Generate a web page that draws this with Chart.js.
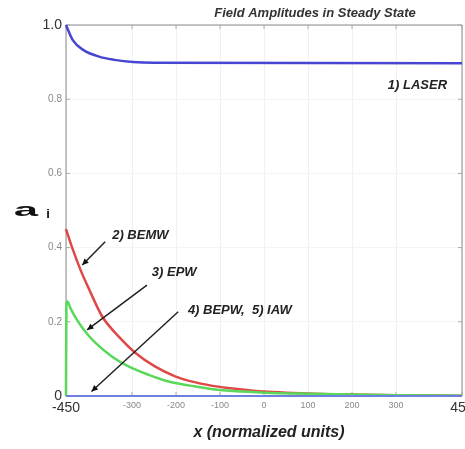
<!DOCTYPE html>
<html>
<head>
<meta charset="utf-8">
<script src="https://cdn.jsdelivr.net/npm/chart.js@4"></script>
<style>
  html, body { margin: 0; padding: 0; background: #fff; }
  #wrap { width: 465px; height: 449px; }
</style>
</head>
<body>
<div id="wrap"><canvas id="chart"></canvas></div>
<script>
// tick values / labels
var xTickVals = [-450, -300, -200, -100, 0, 100, 200, 300, 450];
var xTickLabels = ['-450', '-300', '-200', '-100', '0', '100', '200', '300', '450'];
var yTickVals = [0, 0.2, 0.4, 0.6, 0.8, 1.0];
var yTickLabels = ['0', '0.2', '0.4', '0.6', '0.8', '1.0'];

// 1) LASER
var laserX = [-450, -435, -411, -373, -340, -298, -250, 450];
var laserY = [1.0, 0.96, 0.933, 0.914, 0.906, 0.900, 0.898, 0.897];

// 2) BEMW
var bemwX = [-450, -436, -417, -398, -368, -330, -292, -247, -202, -168, -120, -77, -30, 0, 50, 100, 150, 200, 300, 450];
var bemwY = [0.45, 0.40, 0.34, 0.289, 0.215, 0.16, 0.116, 0.079, 0.053, 0.040, 0.028, 0.021, 0.015, 0.012, 0.009, 0.007, 0.005, 0.004, 0.002, 0.001];

// 3) EPW
var epwX = [-450, -449, -447, -440, -425, -406, -383, -345, -307, -262, -217, -168, -116, -50, 0, 100, 200, 300, 450];
var epwY = [0, 0.25, 0.255, 0.237, 0.205, 0.173, 0.143, 0.106, 0.079, 0.057, 0.039, 0.028, 0.018, 0.012, 0.009, 0.006, 0.004, 0.002, 0.001];

// 4) BEPW, 5) IAW
var waveX = [-450, 450];
var waveY = [0, 0];

// annotation labels (data coords)
var noteText = ['1) LASER', '2) BEMW', '3) EPW', '4) BEPW,  5) IAW'];
var noteX = [416, -345, -255, -173];
var noteY = [0.838, 0.434, 0.332, 0.232];
var noteAlign = ['right', 'left', 'left', 'left'];

// arrows: tail -> head (data coords)
var arrowFromX = [-361, -266, -195];
var arrowFromY = [0.416, 0.299, 0.227];
var arrowToX = [-413, -402, -392];
var arrowToY = [0.353, 0.178, 0.012];

function pts(xs, ys) {
    return xs.map(function (x, i) { return {x: x, y: ys[i]}; });
}

var FONT = "'Liberation Sans', Arial, sans-serif";

var decorPlugin = {
    id: 'decor',
    beforeDatasetsDraw: function (chart) {
        var ctx = chart.ctx, a = chart.chartArea;
        var xs = chart.scales.x, ys = chart.scales.y;
        ctx.save();
        ctx.strokeStyle = '#8a8a8a';
        ctx.lineWidth = 1;
        ctx.beginPath();
        ctx.moveTo(a.left, a.bottom);
        ctx.lineTo(a.left, a.top);
        ctx.lineTo(a.right, a.top);
        ctx.lineTo(a.right, a.bottom);
        ctx.stroke();
        // inside ticks
        ctx.strokeStyle = '#aaa';
        ctx.beginPath();
        xTickVals.forEach(function (v) {
            var px = xs.getPixelForValue(v);
            ctx.moveTo(px, a.top); ctx.lineTo(px, a.top + 4);
            ctx.moveTo(px, a.bottom); ctx.lineTo(px, a.bottom - 4);
        });
        yTickVals.forEach(function (v) {
            var py = ys.getPixelForValue(v);
            ctx.moveTo(a.left, py); ctx.lineTo(a.left + 4, py);
            ctx.moveTo(a.right, py); ctx.lineTo(a.right - 4, py);
        });
        ctx.stroke();
        ctx.restore();
    },
    afterDraw: function (chart) {
        var ctx = chart.ctx;
        var xs = chart.scales.x, ys = chart.scales.y;
        ctx.save();
        ctx.fillStyle = '#333';
        ctx.textBaseline = 'middle';

        // title
        ctx.font = 'italic bold 13px ' + FONT;
        ctx.textAlign = 'center';
        ctx.fillText('Field Amplitudes in Steady State', 315, 13);

        // x title
        ctx.font = 'italic bold 16px ' + FONT;
        ctx.fillStyle = '#222';
        ctx.fillText('x (normalized units)', 269, 433);

        // y title a_i
        ctx.save();
        ctx.translate(26, 211);
        ctx.scale(2.3, 1);
        ctx.font = 'bold 19px ' + FONT;
        ctx.fillStyle = '#111';
        ctx.fillText('a', 0, 0);
        ctx.restore();
        ctx.font = 'bold 13px ' + FONT;
        ctx.fillStyle = '#111';
        ctx.fillText('i', 48, 214);

        // annotations
        ctx.font = 'italic bold 13px ' + FONT;
        ctx.fillStyle = '#222';
        noteText.forEach(function (t, i) {
            ctx.textAlign = noteAlign[i];
            ctx.fillText(t, xs.getPixelForValue(noteX[i]), ys.getPixelForValue(noteY[i]));
        });

        // arrows
        ctx.strokeStyle = '#222';
        ctx.fillStyle = '#111';
        ctx.lineWidth = 1.5;
        arrowFromX.forEach(function (fx, i) {
            var x1 = xs.getPixelForValue(fx), y1 = ys.getPixelForValue(arrowFromY[i]);
            var x2 = xs.getPixelForValue(arrowToX[i]), y2 = ys.getPixelForValue(arrowToY[i]);
            ctx.beginPath();
            ctx.moveTo(x1, y1); ctx.lineTo(x2, y2);
            ctx.stroke();
            var ang = Math.atan2(y2 - y1, x2 - x1);
            ctx.beginPath();
            ctx.moveTo(x2, y2);
            ctx.lineTo(x2 - 7 * Math.cos(ang - 0.45), y2 - 7 * Math.sin(ang - 0.45));
            ctx.lineTo(x2 - 7 * Math.cos(ang + 0.45), y2 - 7 * Math.sin(ang + 0.45));
            ctx.closePath();
            ctx.fill();
        });
        ctx.restore();
    }
};

function lineSet(label, data, color, width) {
    return {
        label: label,
        data: data,
        showLine: true,
        borderColor: color,
        backgroundColor: color,
        borderWidth: width,
        pointRadius: 0,
        cubicInterpolationMode: 'monotone',
        clip: 6
    };
}

new Chart(document.getElementById('chart').getContext('2d'), {
    type: 'scatter',
    data: {
        datasets: [
            lineSet('4) BEPW, 5) IAW', pts(waveX, waveY), '#6f7fe0', 2),
            lineSet('3) EPW', pts(epwX, epwY), '#5ad85a', 2.5),
            lineSet('2) BEMW', pts(bemwX, bemwY), '#e04848', 2.5),
            lineSet('1) LASER', pts(laserX, laserY), '#4646d2', 2.5)
        ]
    },
    options: {
        responsive: true,
        maintainAspectRatio: false,
        animation: false,
        layout: {padding: {top: 25, right: 3, left: 0, bottom: 0}},
        plugins: {
            legend: {display: false},
            tooltip: {enabled: false}
        },
        scales: {
            x: {
                type: 'linear',
                min: -450,
                max: 450,
                afterBuildTicks: function (scale) {
                    scale.ticks = xTickVals.map(function (v) { return {value: v}; });
                },
                afterFit: function (scale) {
                    scale.height = 53;
                    scale.paddingLeft = 0;
                    scale.paddingRight = 0;
                },
                border: {display: false},
                grid: {color: '#f1f1f1', drawTicks: false},
                ticks: {
                    padding: 4,
                    maxRotation: 0,
                    autoSkip: false,
                    callback: function (v) { return xTickLabels[xTickVals.indexOf(v)]; },
                    font: function (c) {
                        var big = c.tick && Math.abs(c.tick.value) === 450;
                        return {family: FONT, size: big ? 14 : 9};
                    },
                    color: function (c) {
                        return c.tick && Math.abs(c.tick.value) === 450 ? '#333' : '#888';
                    }
                }
            },
            y: {
                min: 0,
                max: 1,
                afterBuildTicks: function (scale) {
                    scale.ticks = yTickVals.map(function (v) { return {value: v}; });
                },
                afterFit: function (scale) {
                    scale.width = 66;
                    scale.paddingTop = 0;
                    scale.paddingBottom = 0;
                },
                border: {display: false},
                grid: {color: '#f4f4f4', drawTicks: false},
                ticks: {
                    padding: 4,
                    callback: function (v) {
                        var i = yTickVals.findIndex(function (t) { return Math.abs(t - v) < 1e-9; });
                        return yTickLabels[i];
                    },
                    font: function (c) {
                        var v = c.tick ? c.tick.value : 0;
                        var big = v === 0 || Math.abs(v - 1) < 1e-9;
                        return {family: FONT, size: big ? 14 : 10};
                    },
                    color: function (c) {
                        var v = c.tick ? c.tick.value : 0;
                        return (v === 0 || Math.abs(v - 1) < 1e-9) ? '#333' : '#888';
                    }
                }
            }
        }
    },
    plugins: [decorPlugin]
});
</script>
</body>
</html>
